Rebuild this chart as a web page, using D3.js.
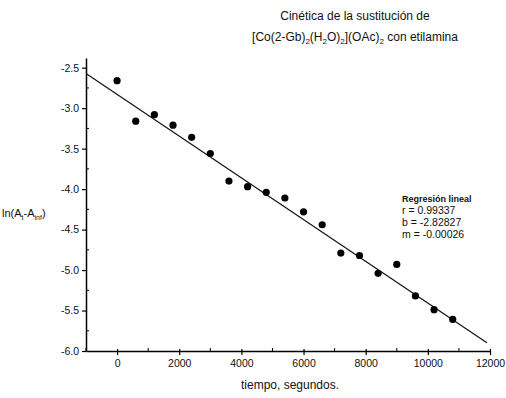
<!DOCTYPE html>
<html>
<head>
<meta charset="utf-8">
<script src="https://cdn.jsdelivr.net/npm/d3@7"></script>
<style>
  body { margin: 0; background: #fff; }
  svg { display: block; font-family: "Liberation Sans", Arial, sans-serif; }
</style>
</head>
<body>
<svg id="chart" width="506" height="398"></svg>
<script>
// data
const times = [0, 600, 1200, 1800, 2400, 3000, 3600, 4200, 4800, 5400,
               6000, 6600, 7200, 7800, 8400, 9000, 9600, 10200, 10800];
const lnValues = [-2.66, -3.16, -3.08, -3.21, -3.36, -3.56, -3.90, -3.97, -4.04, -4.11,
                  -4.28, -4.44, -4.79, -4.82, -5.04, -4.93, -5.32, -5.49, -5.61];
const xTicks = [0, 2000, 4000, 6000, 8000, 10000, 12000];
const yTicks = [-2.5, -3.0, -3.5, -4.0, -4.5, -5.0, -5.5, -6.0];
const fitRange = [-1000, 11900];
const fitB = -2.82827;
const fitM = -0.000258;
const fitLabels = ['r = 0.99337', 'b = -2.82827', 'm = -0.00026'];

const svg = d3.select('#chart');

const x = d3.scaleLinear().domain([-1000, 12000]).range([86, 490]);
const y = d3.scaleLinear().domain([-6.0, -2.38]).range([351, 58]);

// axes
const xAxis = d3.axisBottom(x).tickValues(xTicks).tickSize(4).tickSizeOuter(0)
  .tickFormat(d3.format('d'));
const gx = svg.append('g').attr('transform', 'translate(0,351)').call(xAxis);
gx.select('.domain').attr('stroke-width', 1.5);
gx.selectAll('.tick line').attr('y1', -2).attr('stroke-width', 1.2);
gx.selectAll('.tick text').attr('font-size', 10.5).attr('dy', '0.9em').attr('fill', '#111');

const xMinor = d3.range(-1000, 12001, 1000).filter(d => !xTicks.includes(d));
svg.append('g').selectAll('line').data(xMinor).join('line')
  .attr('x1', d => x(d)).attr('x2', d => x(d))
  .attr('y1', 351).attr('y2', 348).attr('stroke', '#000');

const yAxis = d3.axisLeft(y).tickValues(yTicks).tickSize(4).tickSizeOuter(0)
  .tickFormat(d3.format('.1f'));
const gy = svg.append('g').attr('transform', 'translate(86,0)').call(yAxis);
gy.select('.domain').attr('stroke-width', 1.5);
gy.selectAll('.tick line').attr('stroke-width', 1.2);
gy.selectAll('.tick text').attr('font-size', 10.5).attr('fill', '#111')
  .text(d => d3.format('.1f')(d).replace('−', '-'));

const yMinor = d3.range(-5.75, -2.4, 0.5);
svg.append('g').selectAll('line').data(yMinor).join('line')
  .attr('x1', 86).attr('x2', 89)
  .attr('y1', d => y(d)).attr('y2', d => y(d)).attr('stroke', '#000');

// regression line
svg.append('line')
  .attr('x1', x(fitRange[0])).attr('y1', y(fitB + fitM * fitRange[0]))
  .attr('x2', x(fitRange[1])).attr('y2', y(fitB + fitM * fitRange[1]))
  .attr('stroke', '#111').attr('stroke-width', 1.2);

// points
svg.append('g').selectAll('circle').data(times).join('circle')
  .attr('cx', d => x(d))
  .attr('cy', (d, i) => y(lnValues[i]))
  .attr('r', 3.6)
  .attr('fill', '#000');

// title
const title = svg.append('text').attr('x', 355).attr('text-anchor', 'middle')
  .attr('font-size', 12).attr('fill', '#111');
title.append('tspan').attr('x', 355).attr('y', 20).text('Cinética de la sustitución de');
const t2 = title.append('tspan').attr('x', 355).attr('y', 41);
t2.append('tspan').text('[Co(2-Gb)');
t2.append('tspan').attr('font-size', 8).attr('dy', 3).text('2');
t2.append('tspan').attr('dy', -3).text('(H');
t2.append('tspan').attr('font-size', 8).attr('dy', 3).text('2');
t2.append('tspan').attr('dy', -3).text('O)');
t2.append('tspan').attr('font-size', 8).attr('dy', 3).text('2');
t2.append('tspan').attr('dy', -3).text('](OAc)');
t2.append('tspan').attr('font-size', 8).attr('dy', 3).text('2');
t2.append('tspan').attr('dy', -3).text(' con etilamina');

// axis titles
svg.append('text').attr('x', 290).attr('y', 389).attr('text-anchor', 'middle')
  .attr('font-size', 12).attr('fill', '#111').text('tiempo, segundos.');

const yl = svg.append('text').attr('x', 2).attr('y', 217).attr('font-size', 11).attr('fill', '#111');
yl.append('tspan').text('ln(A');
yl.append('tspan').attr('font-size', 7).attr('dy', 3).text('t');
yl.append('tspan').attr('dy', -3).text('-A');
yl.append('tspan').attr('font-size', 7).attr('dy', 3).text('inf');
yl.append('tspan').attr('dy', -3).text(')');

// regression box
svg.append('text').attr('x', 402).attr('y', 202).attr('font-size', 9)
  .attr('font-weight', 'bold').attr('fill', '#111').text('Regresión lineal');
svg.append('g').selectAll('text').data(fitLabels).join('text')
  .attr('x', 402).attr('y', (d, i) => 214 + i * 12)
  .attr('font-size', 10.5).attr('fill', '#111').text(d => d);
</script>
</body>
</html>
